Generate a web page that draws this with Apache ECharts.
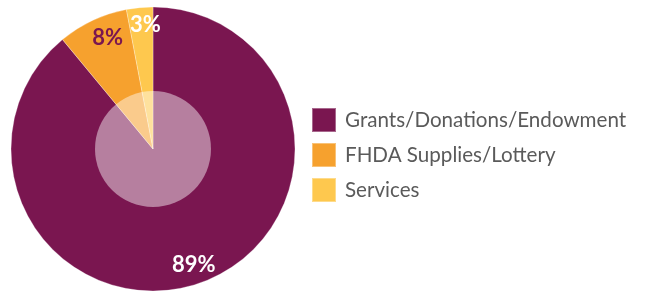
<!DOCTYPE html>
<html>
<head>
<meta charset="utf-8">
<script src="https://cdn.jsdelivr.net/npm/echarts@6/dist/echarts.min.js"></script>
<style>
  html, body { margin: 0; padding: 0; background: #fff; }
  #chart { width: 645px; height: 293px; }
</style>
</head>
<body>
<div id="chart"></div>
<script>
const categories = ['Grants/Donations/Endowment', 'FHDA Supplies/Lottery', 'Services'];
const shares = [89, 8, 3];
const colors = ['#7A1650', '#F6A12E', '#FEC84E'];
const labelColors = ['#ffffff', '#7A1650', '#ffffff'];

const chart = echarts.init(document.getElementById('chart'));
const center = [153, 149];

const option = {
  animation: false,
  legend: {
    orient: 'vertical',
    left: 311,
    top: 107,
    padding: 0,
    icon: 'rect',
    itemWidth: 24,
    itemHeight: 24,
    itemGap: 9,
    data: categories,
    textStyle: { fontFamily: 'Lato', fontSize: 20.6, lineHeight: 24, color: '#5a5a5a', padding: [0, 0, 0, 4] }
  },
  series: [
    {
      type: 'pie',
      center: center,
      radius: [0, 142],
      startAngle: 90,
      clockwise: true,
      silent: true,
      label: { show: false },
      labelLine: { show: false },
      itemStyle: { borderColor: 'rgba(255,255,255,0.35)', borderWidth: 0.8 },
      data: categories.map((name, i) => ({ name, value: shares[i], itemStyle: { color: colors[i] } }))
    },
    {
      // label ring
      type: 'pie',
      center: center,
      radius: [98, 142],
      startAngle: 90,
      clockwise: true,
      silent: true,
      itemStyle: { color: 'rgba(0,0,0,0)' },
      labelLine: { show: false },
      label: {
        show: true,
        position: 'inside',
        formatter: '{c}%',
        fontFamily: 'Lato',
        fontWeight: 'bold',
        fontSize: 22
      },
      data: categories.map((name, i) => ({
        name,
        value: shares[i],
        label: { color: labelColors[i], offset: [[-1, 0], [7, 0], [4, -2]][i] }
      }))
    },
    {
      // light inner disc
      type: 'pie',
      center: center,
      radius: [0, 58],
      silent: true,
      label: { show: false },
      labelLine: { show: false },
      itemStyle: { color: 'rgba(255,255,255,0.45)' },
      data: [{ name: 'inner', value: 1 }]
    }
  ]
};

chart.setOption(option);
</script>
</body>
</html>
